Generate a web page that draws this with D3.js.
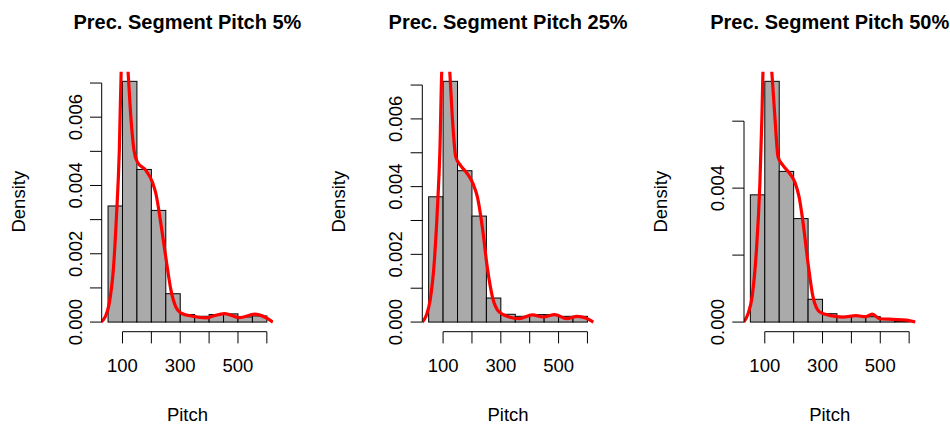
<!DOCTYPE html>
<meta charset="utf-8">
<html>
<head>
    <title>Pitch histograms</title>
    <script type="text/javascript" src="https://cdn.jsdelivr.net/npm/d3@7/dist/d3.min.js"></script>
    <style type="text/css">
        html, body {
            padding: 0px;
            margin: 0px;
            background: #fff;
        }
        text {
            font-family: "Liberation Sans", Arial, Helvetica, sans-serif;
            fill: #000;
        }
    </style>
</head>
<body>
    <svg id="svg" width="950" height="425"></svg>
    <script type="text/javascript">
        // histogram breaks (shared)
        var breaks = [50, 100, 150, 200, 250, 300, 350, 400, 450, 500, 550, 600]
        var titles = ["Prec. Segment Pitch 5%", "Prec. Segment Pitch 25%", "Prec. Segment Pitch 50%"]
        // bar densities per panel
        var bars5  = [0.00340, 0.00705, 0.00447, 0.00327, 0.00083, 0.00022, 0.00017, 0.00022, 0.00024, 0.00015, 0.00018]
        var bars25 = [0.00370, 0.00711, 0.00447, 0.00313, 0.00071, 0.00023, 0.00017, 0.00022, 0.00022, 0.00017, 0.00017]
        var bars50 = [0.00380, 0.00719, 0.00450, 0.00309, 0.00068, 0.00025, 0.00017, 0.00019, 0.00016, 0.00008, 0.00003]
        // density curves: [pitch, density]
        var dens5 = [[25, 0], [40, 0.00015], [54, 0.00054], [69, 0.00161], [79, 0.00307], [89, 0.00502], [95.5, 0.00736],
            [107, 0.0086], [119, 0.00736], [129, 0.0060], [140, 0.00502], [152, 0.00468], [181, 0.00444], [204, 0.00409],
            [216, 0.00375], [233, 0.00288], [250, 0.00190], [268, 0.00093], [285, 0.00044], [300, 0.00028], [343, 0.00017],
            [390, 0.00012], [412, 0.00017], [453, 0.00025], [505, 0.00013], [558, 0.00023], [592, 0.00015], [621, 0]]
        var dens25 = [[28, 0], [42, 0.00020], [55, 0.00064], [69, 0.00172], [80, 0.00330], [89, 0.00507], [95.5, 0.00742],
            [109, 0.0087], [123, 0.00742], [132, 0.00605], [144, 0.00487], [161, 0.00462], [184, 0.00438], [204, 0.00408],
            [219, 0.00369], [236, 0.00280], [253, 0.00162], [271, 0.00074], [294, 0.00030], [329, 0.00015], [363, 0.00010],
            [409, 0.00021], [447, 0.00015], [487, 0.00022], [528, 0.00010], [565, 0.00017], [594, 0.00012], [621, 0]]
        var dens50 = [[27, 0], [42, 0.00025], [56, 0.00075], [71, 0.00214], [83, 0.00413], [90, 0.00612], [94, 0.00751],
            [109, 0.0088], [124, 0.00751], [135, 0.00612], [146, 0.00493], [163, 0.00468], [187, 0.00443], [204, 0.00418],
            [219, 0.00373], [233, 0.00294], [250, 0.00174], [267, 0.00075], [290, 0.00030], [325, 0.00020], [371, 0.00015],
            [416, 0.00019], [450, 0.00016], [472, 0.00024], [498, 0.00010], [544, 0.00008], [590, 0.00006], [622, 0]]
        // axis ticks and labels
        var xTicks = [100, 200, 300, 400, 500, 600]
        var xLabels = [100, 300, 500]
        var yTicksA = [0, 0.001, 0.002, 0.003, 0.004, 0.005, 0.006, 0.007]
        var yLabelsA = [0, 0.002, 0.004, 0.006]
        var yTicksB = [0, 0.002, 0.004, 0.006]
        var yLabelsB = [0, 0.004]

        var panels = [
            { title: titles[0], bars: bars5, dens: dens5, yTicks: yTicksA, yLabels: yLabelsA, left: 101.7 },
            { title: titles[1], bars: bars25, dens: dens25, yTicks: yTicksA, yLabels: yLabelsA, left: 422.3 },
            { title: titles[2], bars: bars50, dens: dens50, yTicks: yTicksB, yLabels: yLabelsB, left: 744 }
        ]

        var svg = d3.select('svg')
        var plotW = 171.5, plotTop = 71.7, plotBottom = 331.7, tickLen = 11.7
        var fs = 18.5

        panels.forEach(function (p, i) {
            var lo = breaks[0], hi = breaks[breaks.length - 1]
            var pad = (hi - lo) * 0.04
            var x = d3.scaleLinear().domain([lo - pad, hi + pad]).range([p.left, p.left + plotW])
            var ymax = d3.max(p.bars)
            var y = d3.scaleLinear().domain([-0.04 * ymax, 1.04 * ymax]).range([plotBottom, plotTop])
            var g = svg.append('g')

            g.append('clipPath').attr('id', 'clip' + i)
              .append('rect')
              .attr('x', p.left).attr('y', plotTop)
              .attr('width', plotW).attr('height', plotBottom - plotTop)

            // bars
            g.append('g').selectAll('rect')
              .data(p.bars)
              .enter().append('rect')
                .attr('x', function (d, k) { return x(breaks[k]) })
                .attr('y', function (d) { return y(d) })
                .attr('width', function (d, k) { return x(breaks[k + 1]) - x(breaks[k]) })
                .attr('height', function (d) { return y(0) - y(d) })
                .attr('fill', '#aaaaaa')
                .attr('stroke', '#000')
                .attr('stroke-width', 1)

            // density curve
            var line = d3.line()
              .x(function (d) { return x(d[0]) })
              .y(function (d) { return y(d[1]) })
              .curve(d3.curveMonotoneX)
            g.append('path')
              .attr('d', line(p.dens))
              .attr('clip-path', 'url(#clip' + i + ')')
              .attr('fill', 'none')
              .attr('stroke', '#ff0000')
              .attr('stroke-width', 3.2)
              .attr('stroke-linejoin', 'round')

            // x axis
            g.append('line')
              .attr('x1', x(xTicks[0])).attr('x2', x(xTicks[xTicks.length - 1]))
              .attr('y1', plotBottom).attr('y2', plotBottom)
              .attr('stroke', '#000')
            g.append('g').selectAll('line')
              .data(xTicks)
              .enter().append('line')
                .attr('x1', function (d) { return x(d) }).attr('x2', function (d) { return x(d) })
                .attr('y1', plotBottom).attr('y2', plotBottom + tickLen)
                .attr('stroke', '#000')
            g.append('g').selectAll('text')
              .data(xLabels)
              .enter().append('text')
                .attr('x', function (d) { return x(d) })
                .attr('y', 372)
                .attr('text-anchor', 'middle')
                .style('font-size', fs + 'px')
                .text(function (d) { return d })

            // y axis
            var yt = p.yTicks
            g.append('line')
              .attr('x1', p.left).attr('x2', p.left)
              .attr('y1', y(yt[0])).attr('y2', y(yt[yt.length - 1]))
              .attr('stroke', '#000')
            g.append('g').selectAll('line')
              .data(yt)
              .enter().append('line')
                .attr('x1', p.left - tickLen).attr('x2', p.left)
                .attr('y1', function (d) { return y(d) }).attr('y2', function (d) { return y(d) })
                .attr('stroke', '#000')
            g.append('g').selectAll('text')
              .data(p.yLabels)
              .enter().append('text')
                .attr('transform', function (d) { return 'translate(' + (p.left - 20) + ',' + y(d) + ') rotate(-90)' })
                .attr('text-anchor', 'middle')
                .style('font-size', fs + 'px')
                .text(function (d) { return d3.format('.3f')(d) })

            // titles and axis names
            g.append('text')
              .attr('x', p.left + plotW / 2).attr('y', 29)
              .attr('text-anchor', 'middle')
              .style('font-size', '20px')
              .style('font-weight', 'bold')
              .text(p.title)
            g.append('text')
              .attr('x', p.left + plotW / 2).attr('y', 421)
              .attr('text-anchor', 'middle')
              .style('font-size', fs + 'px')
              .text('Pitch')
            g.append('text')
              .attr('transform', 'translate(' + (p.left - 77) + ',' + ((plotTop + plotBottom) / 2) + ') rotate(-90)')
              .attr('text-anchor', 'middle')
              .style('font-size', fs + 'px')
              .text('Density')
        })
    </script>
</body>
</html>
